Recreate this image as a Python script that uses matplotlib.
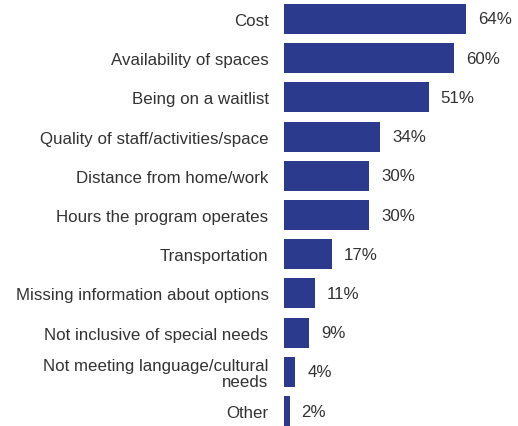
import matplotlib
matplotlib.use("Agg")
import matplotlib.pyplot as plt

# Barriers to accessing child care, share of respondents
categories = [
    "Cost",
    "Availability of spaces",
    "Being on a waitlist",
    "Quality of staff/activities/space",
    "Distance from home/work",
    "Hours the program operates",
    "Transportation",
    "Missing information about options",
    "Not inclusive of special needs",
    "Not meeting language/cultural\nneeds",
    "Other",
]
values = [64, 60, 51, 34, 30, 30, 17, 11, 9, 4, 2]

BAR_COLOR = "#2b3a8c"
TEXT_COLOR = "#333333"
FONT_SIZE = 12.2

plt.rcParams["font.family"] = ["Liberation Sans", "DejaVu Sans"]

fig = plt.figure(figsize=(5.18, 4.27), dpi=100)
ax = fig.add_axes([0.548, 0.0, 0.452, 1.0])

pos = list(range(len(categories)))
ax.barh(pos, values, height=0.765, color=BAR_COLOR)

for p, v in zip(pos, values):
    ax.text(v + 4.2, p, "%d%%" % v, va="center", ha="left",
            fontsize=FONT_SIZE, color=TEXT_COLOR)

ax.set_yticks(pos)
ax.set_yticklabels(categories, fontsize=FONT_SIZE, color=TEXT_COLOR,
                   linespacing=1.05)
ax.tick_params(axis="y", length=0, pad=11)
ax.set_xticks([])
ax.set_xlim(0, 82.4)
ax.set_ylim(10.38, -0.51)
for s in ax.spines.values():
    s.set_visible(False)

fig.savefig("out.png", dpi=100)
